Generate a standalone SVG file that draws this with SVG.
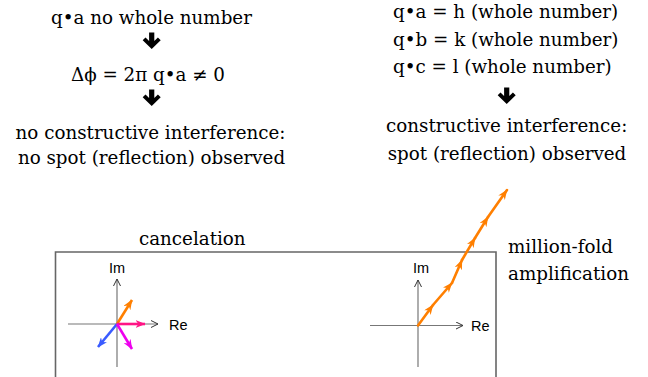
<svg xmlns="http://www.w3.org/2000/svg" width="648" height="377" viewBox="0 0 648 377">
<style>
.t{font-family:"DejaVu Serif","Liberation Serif",serif;font-size:18.3px;fill:#000;text-anchor:middle}
.tl{font-family:"DejaVu Serif","Liberation Serif",serif;font-size:18.3px;fill:#000}
.ax{font-family:"Liberation Sans",Arial,sans-serif;font-size:14.5px;fill:#000}
.axis{stroke:#777;stroke-width:1.2;fill:none}
.vec{stroke-width:2.6;fill:none}
.box{stroke:#666;stroke-width:1.6;fill:none}
</style>
<defs>
<path id="bigArrow" d="M-2.6,0 H2.6 V8.5 L6.2,5 L9,7.8 L0,16.5 L-9,7.8 L-6.2,5 L-2.6,8.5 Z" fill="#000"/>
<marker id="axHead" viewBox="0 0 8 8" refX="7.5" refY="4" markerWidth="8" markerHeight="8" markerUnits="userSpaceOnUse" orient="auto">
<path d="M0.5,0.5 L7.5,4 L0.5,7.5" fill="none" stroke="#333" stroke-width="1"/>
</marker>
<marker id="hOrange" viewBox="0 0 10 8" refX="9.5" refY="4" markerWidth="10" markerHeight="8" markerUnits="userSpaceOnUse" orient="auto">
<path d="M0,0 L10,4 L0,8 L3,4 Z" fill="#FF7F00"/>
</marker>
<marker id="hPink" viewBox="0 0 10 8" refX="9.5" refY="4" markerWidth="10" markerHeight="8" markerUnits="userSpaceOnUse" orient="auto">
<path d="M0,0 L10,4 L0,8 L3,4 Z" fill="#FF1485"/>
</marker>
<marker id="hBlue" viewBox="0 0 10 8" refX="9.5" refY="4" markerWidth="10" markerHeight="8" markerUnits="userSpaceOnUse" orient="auto">
<path d="M0,0 L10,4 L0,8 L3,4 Z" fill="#3A5BFF"/>
</marker>
<marker id="hMagenta" viewBox="0 0 10 8" refX="9.5" refY="4" markerWidth="10" markerHeight="8" markerUnits="userSpaceOnUse" orient="auto">
<path d="M0,0 L10,4 L0,8 L3,4 Z" fill="#EE00EE"/>
</marker>
</defs>

<g id="left-condition">
<text class="t" x="151.5" y="23.5">q•a no whole number</text>
<use href="#bigArrow" x="151.7" y="32.5"/>
<text class="t" x="148" y="80.5">Δϕ = 2π q•a ≠ 0</text>
<use href="#bigArrow" x="151.7" y="89.5"/>
<text class="t" x="150.5" y="138.5">no constructive interference:</text>
<text class="t" x="151.5" y="163.5">no spot (reflection) observed</text>
</g>

<g id="right-condition">
<text class="tl" x="393" y="18">q•a = h (whole number)</text>
<text class="tl" x="393" y="45.5">q•b = k (whole number)</text>
<text class="tl" x="393" y="73">q•c = l (whole number)</text>
<use href="#bigArrow" x="506.7" y="87.5"/>
<text class="t" x="506.7" y="131.5">constructive interference:</text>
<text class="t" x="507" y="160">spot (reflection) observed</text>
</g>

<g id="box">
<path class="box" d="M55.5,380 V252 H496 V380"/>
<text class="t" x="192.3" y="245">cancelation</text>
<text class="tl" x="508" y="253">million-fold</text>
<text class="tl" x="508" y="280">amplification</text>
</g>

<g id="left-plane">
<line class="axis" x1="68" y1="324" x2="158" y2="324" marker-end="url(#axHead)"/>
<line class="axis" x1="117" y1="367" x2="117" y2="279" marker-end="url(#axHead)"/>
<text class="ax" x="117" y="273" text-anchor="middle">Im</text>
<text class="ax" x="169" y="330">Re</text>
</g>

<g id="right-plane">
<line class="axis" x1="370" y1="325.5" x2="463" y2="325.5" marker-end="url(#axHead)"/>
<line class="axis" x1="418" y1="367" x2="418" y2="280" marker-end="url(#axHead)"/>
<text class="ax" x="421" y="273" text-anchor="middle">Im</text>
<text class="ax" x="471" y="331">Re</text>
</g>

<g id="connectors">
<line class="vec" stroke="#FF7F00" x1="117" y1="324" x2="132" y2="300" marker-end="url(#hOrange)"/>
<line class="vec" stroke="#FF1485" x1="117" y1="324" x2="145" y2="324" marker-end="url(#hPink)"/>
<line class="vec" stroke="#3A5BFF" x1="117" y1="324" x2="98" y2="347" marker-end="url(#hBlue)"/>
<line class="vec" stroke="#EE00EE" x1="117" y1="324" x2="132" y2="349" marker-end="url(#hMagenta)"/>
<g stroke="#FF7F00" class="vec" stroke-linecap="round">
<line x1="418" y1="325.5" x2="433" y2="305" marker-end="url(#hOrange)"/>
<line x1="433" y1="305" x2="452" y2="283" marker-end="url(#hOrange)"/>
<line x1="452" y1="283" x2="462" y2="260" marker-end="url(#hOrange)"/>
<line x1="462" y1="260" x2="475" y2="238" marker-end="url(#hOrange)"/>
<line x1="475" y1="238" x2="488" y2="217" marker-end="url(#hOrange)"/>
<line x1="488" y1="217" x2="507" y2="190" marker-end="url(#hOrange)"/>
</g>
</g>
</svg>
